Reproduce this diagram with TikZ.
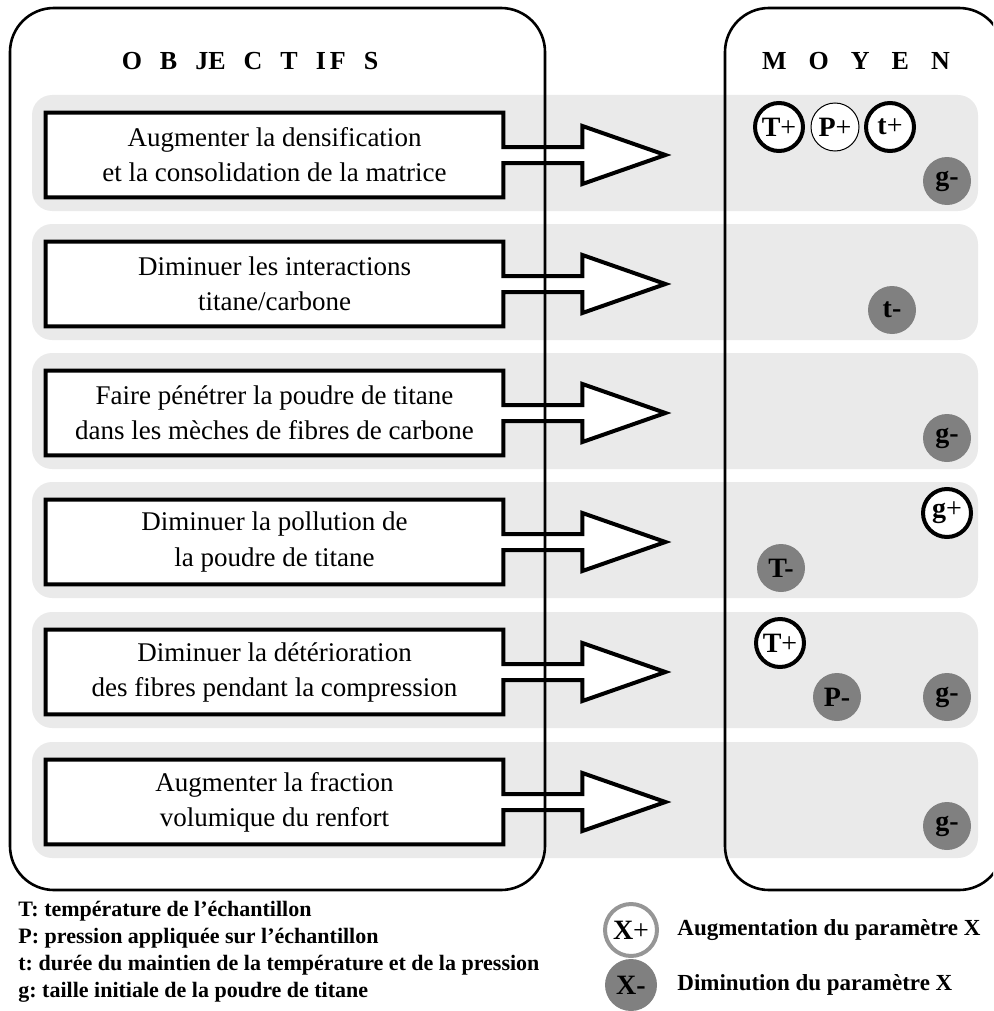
\documentclass[tikz,border=0pt]{standalone}
\usepackage{fontspec}
\setmainfont{Liberation Serif}
\usepackage{xcolor}
\usepackage{tikz}
\usetikzlibrary{calc}
\definecolor{bandgray}{RGB}{234,234,234}
\definecolor{downgray}{RGB}{128,128,128}
\definecolor{ringgray}{RGB}{150,150,150}
\frenchspacing

\begin{document}
\begin{tikzpicture}[x=0.5pt, y=-0.5pt, every node/.style={font=\fontsize{13.5}{17.5}\selectfont},
    band/.style={fill=bandgray, rounded corners=10pt},
    panel/.style={draw=black, line width=1.3pt, rounded corners=22pt},
    objective/.style={fill=white, minimum width=228.5pt, minimum height=42pt, inner sep=0pt, align=center},
    objline/.style={draw=black, line width=2pt},
    incr/.style={circle, draw=black, line width=2pt, fill=white, minimum size=24pt, inner sep=0pt, font=\fontsize{14}{14}\selectfont},
    decr/.style={circle, fill=downgray, minimum size=24pt, inner sep=0pt, font=\bfseries\fontsize{14}{14}\selectfont},
    heading/.style={font=\bfseries\fontsize{13}{13}\selectfont},
    legendtext/.style={anchor=west, align=left, inner sep=0pt, font=\bfseries\fontsize{11}{13.5}\selectfont}]
    \useasboundingbox (0,0) rectangle (993,1011);
    \clip (0,0) rectangle (993,1011);
    % grey bands
    \fill[band] (32,95) rectangle (978,211);
    \fill[band] (32,224) rectangle (978,340);
    \fill[band] (32,353) rectangle (978,469);
    \fill[band] (32,482) rectangle (978,598);
    \fill[band] (32,612) rectangle (978,728);
    \fill[band] (32,742) rectangle (978,858);
    % objectives
    \node[objective] (obj1) at (274.5,155) {Augmenter la densification\\et la consolidation de la matrice};
    \node[objective] (obj2) at (274.5,284) {Diminuer les interactions\\titane/carbone};
    \node[objective] (obj3) at (274.5,413) {Faire pénétrer la poudre de titane\\dans les mèches de fibres de carbone};
    \node[objective] (obj4) at (274.5,542) {Diminuer la pollution de\\la poudre de titane};
    \node[objective] (obj5) at (274.5,672) {Diminuer la détérioration\\des fibres pendant la compression};
    \node[objective] (obj6) at (274.5,802) {Augmenter la fraction\\volumique du renfort};
    \foreach \o in {obj1,obj2,obj3,obj4,obj5,obj6} {
        \fill[white] ($(\o.east)+(-3,-8)$) -- ($(\o.east)+(79,-8)$) -- ($(\o.east)+(79,-29)$) -- ($(\o.east)+(162,0)$)
            -- ($(\o.east)+(79,29)$) -- ($(\o.east)+(79,8)$) -- ($(\o.east)+(-3,8)$) -- cycle;
        \draw[objline] (\o.north west) -- (\o.north east) -- ($(\o.east)+(0,-8)$) -- ($(\o.east)+(79,-8)$)
            -- ($(\o.east)+(79,-29)$) -- ($(\o.east)+(162,0)$) -- ($(\o.east)+(79,29)$) -- ($(\o.east)+(79,8)$)
            -- ($(\o.east)+(0,8)$) -- (\o.south east) -- (\o.south west) -- cycle;
    }
    % panels
    \draw[panel] (10,8) rectangle (545,890);
    \draw[panel] (725,8) rectangle (1003,890);
    \node[heading] (objtitle) at (250,61) {O\hspace{9pt}B\hspace{9pt}JE\hspace{9pt}C\hspace{9pt}T\hspace{9pt}I\hspace{2pt}F\hspace{9pt}S};
    \node[heading] (moytitle) at (856,61) {M\hspace{11pt}O\hspace{11pt}Y\hspace{11pt}E\hspace{11pt}N};
    % parameters
    \node[incr] (T1) at (779,127) {\textbf{T}+};
    \node[incr, line width=0.5pt] (P1) at (835,127) {\textbf{P}+};
    \node[incr] (t1) at (890,127) {\textbf{t}+};
    \node[decr] (g1) at (947,181) {g-};
    \node[decr] (t2) at (892,310) {t-};
    \node[decr] (g3) at (947,438) {g-};
    \node[incr] (g4) at (947,513) {\textbf{g}+};
    \node[decr] (T4) at (781,568) {T-};
    \node[incr] (T5) at (780,643) {\textbf{T}+};
    \node[decr] (P5) at (837,697) {P-};
    \node[decr] (g5) at (947,697) {g-};
    \node[decr] (g6) at (947,826) {g-};
    % legend
    \node[legendtext] (abbrev) at (18,952) {T: température de l'échantillon\\P: pression appliquée sur l'échantillon\\t: durée du maintien de la température et de la pression\\g: taille initiale de la poudre de titane};
    \node[incr, draw=ringgray, minimum size=26pt] (xup) at (631,930) {\textbf{X}+};
    \node[decr, minimum size=26pt] (xdown) at (631,985) {X-};
    \node[legendtext, font=\bfseries\fontsize{11.5}{14}\selectfont] (uptext) at (677,930) {Augmentation du paramètre X};
    \node[legendtext, font=\bfseries\fontsize{11.5}{14}\selectfont] (downtext) at (677,985) {Diminution du paramètre X};
\end{tikzpicture}
\end{document}
